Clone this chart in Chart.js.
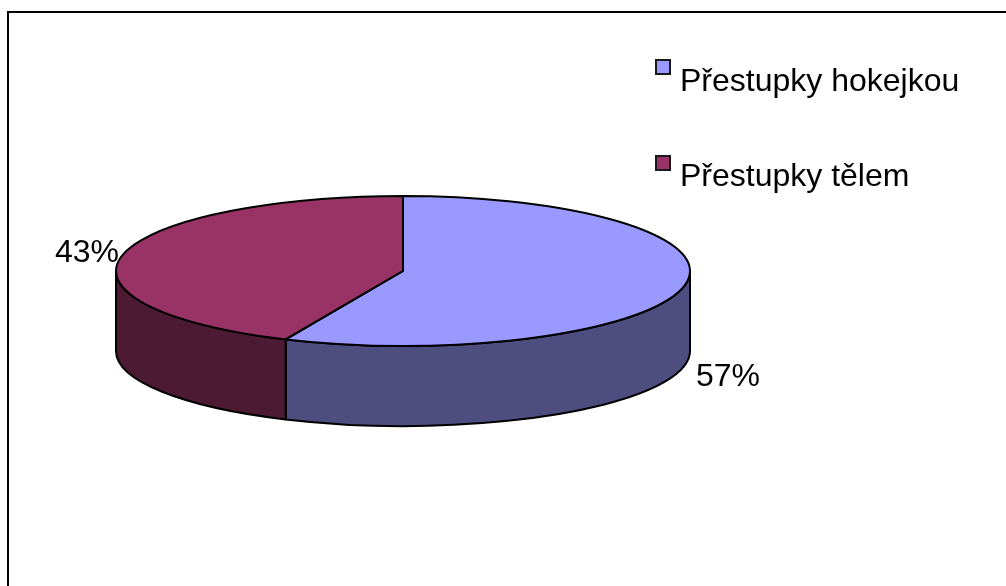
<!DOCTYPE html>
<html lang="cs">
<head>
<meta charset="utf-8">
<style>
html,body{margin:0;padding:0;background:#fff;overflow:hidden}
canvas{display:block}
</style>
<script src="https://cdn.jsdelivr.net/npm/chart.js@4/dist/chart.umd.js"></script>
</head>
<body>
<canvas id="c" width="1006" height="586"></canvas>
<script>
const categories = ['Přestupky hokejkou', 'Přestupky tělem'];
const shares = [56.7, 43.3];
const topColors = ['#9999FF', '#993366'];
const wallColors = ['#4D4D80', '#4D1A33'];

const FONT = '32px "Liberation Sans", Arial, sans-serif';
const CENTER = {x: 403, y: 271};
const SQUASH = 75 / 287;
const DEPTH = 80;
const OUTLINE = 2;
const LEGEND = [{x: 656, y: 60, tx: 680, ty: 91}, {x: 656, y: 156, tx: 680, ty: 186}];
const PCT_POS = [{x: 696, y: 386}, {x: 55, y: 262}];

const ellipsePie = {
  id: 'ellipsePie',
  beforeDraw(chart) {
    const c = chart.ctx;
    c.save();
    c.fillStyle = '#fff';
    c.fillRect(0, 0, chart.width, chart.height);
    c.strokeStyle = '#000';
    c.lineWidth = 2;
    c.beginPath();
    c.moveTo(8, chart.height);
    c.lineTo(8, 12);
    c.lineTo(chart.width, 12);
    c.stroke();
    c.restore();
  },
  beforeDatasetsDraw(chart) {
    const c = chart.ctx;
    const arcs = chart.getDatasetMeta(0).data;
    c.save();
    c.lineWidth = OUTLINE;
    c.strokeStyle = '#000';
    c.lineJoin = 'round';
    arcs.forEach((a, i) => {
      const s = Math.max(a.startAngle, 0);
      const e = Math.min(a.endAngle, Math.PI);
      if (e <= s) return;
      const rx = a.outerRadius, ry = rx * SQUASH;
      c.beginPath();
      c.ellipse(CENTER.x, CENTER.y, rx, ry, 0, s, e);
      c.lineTo(CENTER.x + rx * Math.cos(e), CENTER.y + ry * Math.sin(e) + DEPTH);
      c.ellipse(CENTER.x, CENTER.y + DEPTH, rx, ry, 0, e, s, true);
      c.closePath();
      c.fillStyle = wallColors[i];
      c.fill();
      c.stroke();
    });
    c.restore();
    const a0 = arcs[0];
    c.save();
    c.translate(CENTER.x, CENTER.y);
    c.scale(1, SQUASH);
    c.translate(-a0.x, -a0.y);
  },
  afterDatasetsDraw(chart) {
    const c = chart.ctx;
    c.restore();
    const arcs = chart.getDatasetMeta(0).data;
    c.save();
    c.lineWidth = OUTLINE;
    c.strokeStyle = '#000';
    c.lineJoin = 'round';
    arcs.forEach(a => {
      const rx = a.outerRadius, ry = rx * SQUASH;
      c.beginPath();
      c.moveTo(CENTER.x, CENTER.y);
      c.ellipse(CENTER.x, CENTER.y, rx, ry, 0, a.startAngle, a.endAngle);
      c.closePath();
      c.stroke();
    });
    c.restore();
  },
  afterDraw(chart) {
    const c = chart.ctx;
    const data = chart.data.datasets[0].data;
    const total = data.reduce((p, v) => p + v, 0);
    c.save();
    c.font = FONT;
    c.textBaseline = 'alphabetic';
    c.textAlign = 'left';
    data.forEach((v, i) => {
      c.fillStyle = '#000';
      c.fillText(Math.round(v / total * 100) + '%', PCT_POS[i].x, PCT_POS[i].y);
      const L = LEGEND[i];
      c.fillStyle = topColors[i];
      c.fillRect(L.x, L.y, 14, 14);
      c.strokeStyle = '#1a1a1a';
      c.lineWidth = 2;
      c.strokeRect(L.x, L.y, 14, 14);
      c.fillStyle = '#000';
      c.fillText(chart.data.labels[i], L.tx, L.ty);
    });
    c.restore();
  }
};

new Chart(document.getElementById('c'), {
  type: 'pie',
  data: {
    labels: categories,
    datasets: [{data: shares, backgroundColor: topColors, borderWidth: 0, clip: false}]
  },
  options: {
    responsive: false,
    animation: false,
    layout: {padding: {top: 6, bottom: 6}},
    plugins: {legend: {display: false}, tooltip: {enabled: false}}
  },
  plugins: [ellipsePie]
});
</script>
</body>
</html>
